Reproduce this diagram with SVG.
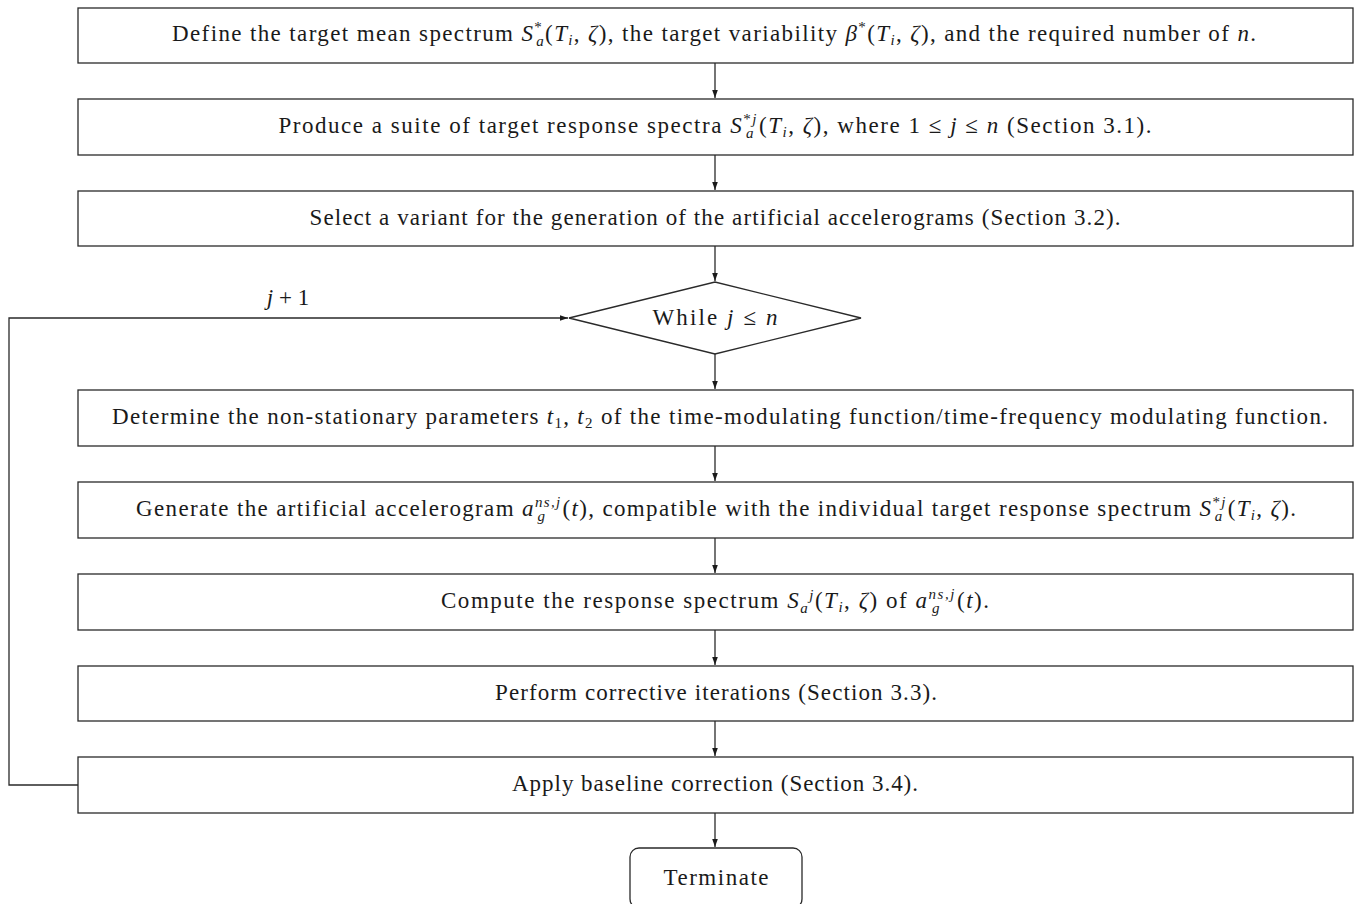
<svg xmlns="http://www.w3.org/2000/svg" width="1355" height="904" viewBox="0 0 1355 904">
<defs>
<style>
.box{fill:#fff;stroke:#2a2a2a;stroke-width:1.3}
.t{font-family:"Liberation Serif","Times New Roman",serif;font-size:23px;fill:#1a1a1a;text-anchor:middle}
.i{font-style:italic}
.s{font-size:15px}
.ln{fill:none;stroke:#2a2a2a;stroke-width:1.3}
</style>
<marker id="ah" viewBox="0 0 10 10" refX="10" refY="5" markerWidth="8" markerHeight="8" markerUnits="userSpaceOnUse" orient="auto">
<path d="M0,1.5 L10,5 L0,8.5 z" fill="#1a1a1a"/>
</marker>
</defs>
<rect width="1355" height="904" fill="#fff"/>

<g id="connectors">
<line class="ln" x1="715" y1="63" x2="715" y2="98" marker-end="url(#ah)"/>
<line class="ln" x1="715" y1="155" x2="715" y2="190" marker-end="url(#ah)"/>
<line class="ln" x1="715" y1="246" x2="715" y2="281" marker-end="url(#ah)"/>
<line class="ln" x1="715" y1="354" x2="715" y2="389" marker-end="url(#ah)"/>
<line class="ln" x1="715" y1="446" x2="715" y2="481" marker-end="url(#ah)"/>
<line class="ln" x1="715" y1="538" x2="715" y2="573" marker-end="url(#ah)"/>
<line class="ln" x1="715" y1="630" x2="715" y2="665" marker-end="url(#ah)"/>
<line class="ln" x1="715" y1="721" x2="715" y2="756" marker-end="url(#ah)"/>
<line class="ln" x1="715" y1="813" x2="715" y2="847" marker-end="url(#ah)"/>
<polyline class="ln" points="78,785 9,785 9,318 568,318" marker-end="url(#ah)"/>
<text class="t" x="288" y="305"><tspan class="i">j</tspan> + 1</text>
</g>

<g id="n1">
<rect class="box" x="78" y="8" width="1275" height="55"/>
<text class="t" x="714" y="41" textLength="1084" lengthAdjust="spacing">Define the target mean spectrum <tspan class="i">S</tspan><tspan class="s" dy="-9">*</tspan><tspan class="s i" dx="-7" dy="14">a</tspan><tspan dy="-5">(</tspan><tspan class="i">T</tspan><tspan class="s i" dy="4">i</tspan><tspan dy="-4">, </tspan><tspan class="i">ζ</tspan>), the target variability <tspan class="i">β</tspan><tspan class="s" dy="-9">*</tspan><tspan dy="9">(</tspan><tspan class="i">T</tspan><tspan class="s i" dy="4">i</tspan><tspan dy="-4">, </tspan><tspan class="i">ζ</tspan>), and the required number of <tspan class="i">n</tspan>.</text>
</g>

<g id="n2">
<rect class="box" x="78" y="99" width="1275" height="56"/>
<text class="t" x="715" y="133" textLength="873" lengthAdjust="spacing">Produce a suite of target response spectra <tspan class="i">S</tspan><tspan class="s" dy="-9">*</tspan><tspan class="s i">j</tspan><tspan class="s i" dx="-12" dy="14">a</tspan><tspan dx="4" dy="-5">(</tspan><tspan class="i">T</tspan><tspan class="s i" dy="4">i</tspan><tspan dy="-4">, </tspan><tspan class="i">ζ</tspan>), where 1 ≤ <tspan class="i">j</tspan> ≤ <tspan class="i">n</tspan> (Section 3.1).</text>
</g>

<g id="n3">
<rect class="box" x="78" y="191" width="1275" height="55"/>
<text class="t" x="715" y="225" textLength="811" lengthAdjust="spacing">Select a variant for the generation of the artificial accelerograms (Section 3.2).</text>
</g>

<g id="n4">
<polygon class="box" points="569,318 715,282 861,318 715,354"/>
<text class="t" x="715" y="325" textLength="125" lengthAdjust="spacing">While <tspan class="i">j</tspan> ≤ <tspan class="i">n</tspan></text>
</g>

<g id="n5">
<rect class="box" x="78" y="390" width="1275" height="56"/>
<text class="t" x="720" y="424" textLength="1216" lengthAdjust="spacing">Determine the non-stationary parameters <tspan class="i">t</tspan><tspan class="s" dy="4">1</tspan><tspan dy="-4">, </tspan><tspan class="i">t</tspan><tspan class="s" dy="4">2</tspan><tspan dy="-4"> of the time-modulating function/time-frequency modulating function.</tspan></text>
</g>

<g id="n6">
<rect class="box" x="78" y="482" width="1275" height="56"/>
<text class="t" x="716" y="516" textLength="1160" lengthAdjust="spacing">Generate the artificial accelerogram <tspan class="i">a</tspan><tspan class="s i" dy="-9">ns,j</tspan><tspan class="s i" dx="-24" dy="14">g</tspan><tspan dx="16" dy="-5">(</tspan><tspan class="i">t</tspan>), compatible with the individual target response spectrum <tspan class="i">S</tspan><tspan class="s" dy="-9">*</tspan><tspan class="s i">j</tspan><tspan class="s i" dx="-12" dy="14">a</tspan><tspan dx="4" dy="-5">(</tspan><tspan class="i">T</tspan><tspan class="s i" dy="4">i</tspan><tspan dy="-4">, </tspan><tspan class="i">ζ</tspan>).</text>
</g>

<g id="n7">
<rect class="box" x="78" y="574" width="1275" height="56"/>
<text class="t" x="715" y="608" textLength="548" lengthAdjust="spacing">Compute the response spectrum <tspan class="i">S</tspan><tspan class="s i" dy="5">a</tspan><tspan class="s i" dy="-13">j</tspan><tspan dy="8">(</tspan><tspan class="i">T</tspan><tspan class="s i" dy="4">i</tspan><tspan dy="-4">, </tspan><tspan class="i">ζ</tspan>) of <tspan class="i">a</tspan><tspan class="s i" dy="-9">ns,j</tspan><tspan class="s i" dx="-24" dy="14">g</tspan><tspan dx="16" dy="-5">(</tspan><tspan class="i">t</tspan>).</text>
</g>

<g id="n8">
<rect class="box" x="78" y="666" width="1275" height="55"/>
<text class="t" x="716" y="700" textLength="442" lengthAdjust="spacing">Perform corrective iterations (Section 3.3).</text>
</g>

<g id="n9">
<rect class="box" x="78" y="757" width="1275" height="56"/>
<text class="t" x="715" y="791" textLength="406" lengthAdjust="spacing">Apply baseline correction (Section 3.4).</text>
</g>

<g id="n10">
<rect class="box" x="630" y="848" width="172" height="60" rx="9" ry="9"/>
<text class="t" x="716" y="885" textLength="105" lengthAdjust="spacing">Terminate</text>
</g>
</svg>
